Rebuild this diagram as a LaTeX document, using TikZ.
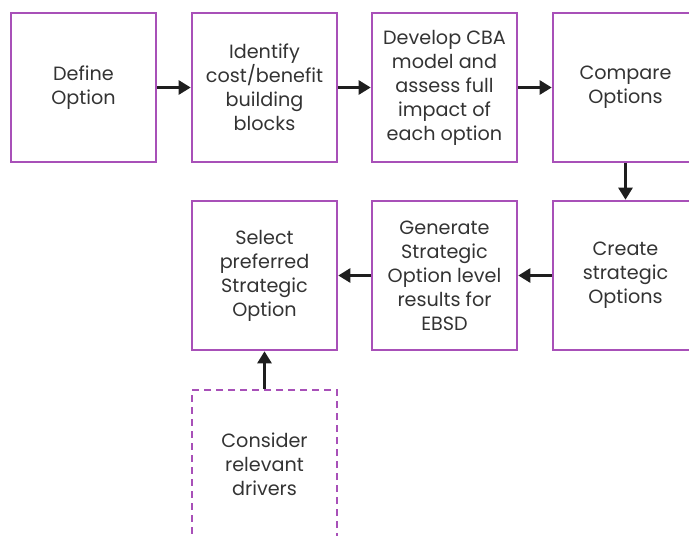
\documentclass[tikz,border=0pt]{standalone}
\usepackage{fontspec}
\setmainfont{Poppins}
\usetikzlibrary{arrows.meta}
\definecolor{boxpurple}{RGB}{168,80,184}
\definecolor{txt}{RGB}{51,51,51}
\definecolor{arr}{RGB}{30,30,30}
\tikzset{
  stepbox/.style={draw=boxpurple, line width=1.6pt, minimum width=145pt, minimum height=149pt,
    align=center, text=txt, font=\fontsize{19.2}{24}\selectfont, inner sep=0pt},
  dashbox/.style={stepbox, dash pattern=on 7pt off 5pt},
  flow/.style={draw=arr, line width=2.6pt, -{Triangle[length=12pt,width=14pt]}, shorten >=0.5pt}
}
\begin{document}
\begin{tikzpicture}[x=1pt,y=-1pt]
\useasboundingbox (0,0) rectangle (689,536);
\clip (0,0) rectangle (689,536);
\node[stepbox] (b1) at (83.5,87.5) {Define\\Option};
\node[stepbox] (b2) at (264.5,87.5) {Identify\\cost/benefit\\building\\blocks};
\node[stepbox] (b3) at (444.5,87.5) {Develop CBA\\model and\\assess full\\impact of\\each option};
\node[stepbox] (b4) at (625.5,87.5) {Compare\\Options};
\node[stepbox] (b5) at (264.5,275.5) {Select\\preferred\\Strategic\\Option};
\node[stepbox] (b6) at (444.5,275.5) {Generate\\Strategic\\Option level\\results for\\EBSD};
\node[stepbox] (b7) at (625.5,275.5) {Create\\strategic\\Options};
\node[dashbox] (b8) at (264.5,464.5) {Consider\\relevant\\drivers};
\draw[flow] (b1) -- (b2);
\draw[flow] (b2) -- (b3);
\draw[flow] (b3) -- (b4);
\draw[flow] (b4) -- (b7);
\draw[flow] (b7) -- (b6);
\draw[flow] (b6) -- (b5);
\draw[flow] (b8) -- (b5);
\end{tikzpicture}
\end{document}
